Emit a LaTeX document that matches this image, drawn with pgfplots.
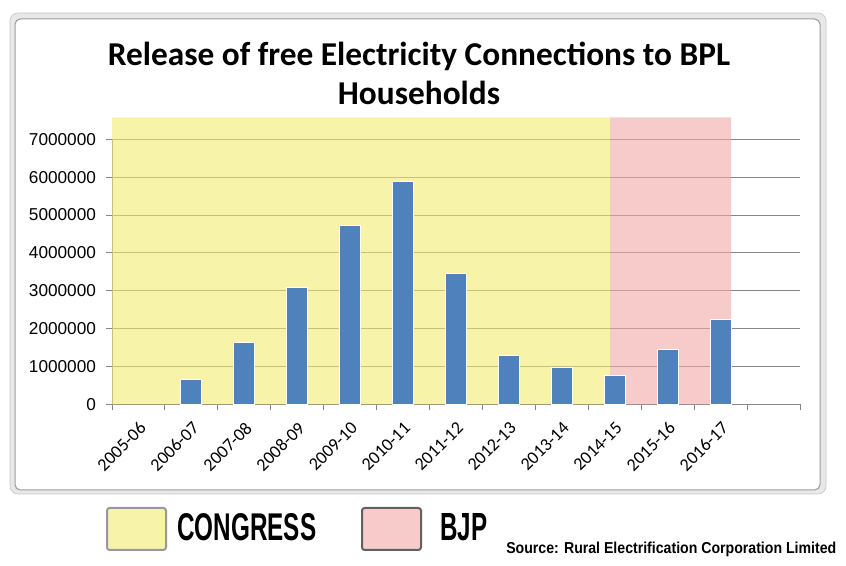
\documentclass[border=0pt]{standalone}
\usepackage{graphicx}
\usepackage{pgfplots}
\pgfplotsset{compat=1.18}
\usepackage{fontspec}
\setmainfont{Carlito}
\newfontfamily\lib{Liberation Sans}
\definecolor{barblue}{HTML}{4F81BD}
\definecolor{cong}{HTML}{F7F4AA}
\definecolor{bjp}{HTML}{F8CBCB}
\definecolor{congt}{HTML}{F2ED71}
\definecolor{bjpt}{HTML}{F3A8A8}
\definecolor{axgray}{HTML}{868686}
\begin{document}
\begin{tikzpicture}[x=0.75pt,y=0.75pt]
\path[use as bounding box] (0,0) rectangle (846,566);
% frame
\fill[black!9, even odd rule, rounded corners=6] (10,566-13) rectangle (826,566-494) (15,566-19) rectangle (820,566-490);
\draw[black!22, line width=0.5pt, rounded corners=6] (10,566-13) rectangle (826,566-494);
\draw[black!38, line width=0.75pt, rounded corners=4] (15,566-19) rectangle (820,566-490);
% title
\node[anchor=base, inner sep=0, font=\bfseries\fontsize{25}{30}\selectfont] at (419,566-66) {Release of free Electricity Connections to BPL};
\node[anchor=base, inner sep=0, font=\bfseries\fontsize{25}{30}\selectfont] at (419,566-105) {Households};
\begin{axis}[
 at={(84pt,121.275pt)}, anchor=south west,
 scale only axis, width=516pt, height=198.75pt,
 xmin=-0.5, xmax=12.5, ymin=0, ymax=7000000,
 clip=false,
 axis x line*=bottom, axis y line*=left,
 axis line style={axgray, line width=0.75pt, -},
 xtick={-0.5,0.5,1.5,2.5,3.5,4.5,5.5,6.5,7.5,8.5,9.5,10.5,11.5,12.5},
 xticklabels={,,,,,,,,,,,,,},
 extra x ticks={0,1,2,3,4,5,6,7,8,9,10,11},
 extra x tick labels={2005-06,2006-07,2007-08,2008-09,2009-10,2010-11,2011-12,2012-13,2013-14,2014-15,2015-16,2016-17},
 extra x tick style={major tick length=0pt, xticklabel style={xshift=0pt, yshift=-7.5pt, rotate=45, anchor=north east, font=\fontsize{13.5}{15}\selectfont}},
 ytick={0,1000000,2000000,3000000,4000000,5000000,6000000,7000000},
 tick align=outside, major tick length=4.5pt,
 tick style={axgray, line width=0.75pt},
 ymajorgrids, grid style={axgray, line width=0.75pt},
 scaled y ticks=false,
 /pgf/number format/assume math mode=true,
 yticklabel style={/pgf/number format/fixed, /pgf/number format/1000 sep={}, font=\lib\fontsize{12.9}{14}\selectfont, xshift=-4pt},
]
\addplot[fill=congt, fill opacity=0.6, draw=none, forget plot] coordinates {(-0.5,0) (-0.5,7580000) (8.91,7580000) (8.91,0)} \closedcycle;
\addplot[fill=bjpt, fill opacity=0.6, draw=none, forget plot] coordinates {(8.91,0) (8.91,7580000) (11.2,7580000) (11.2,0)} \closedcycle;
\addplot[ybar, bar width=15.75pt, bar shift=0pt, fill=barblue, draw=white, line width=0.6pt] coordinates {
(1,655000) (2,1630000) (3,3080000) (4,4720000) (5,5880000) (6,3450000)
(7,1300000) (8,967000) (9,755000) (10,1440000) (11,2230000)};
\end{axis}
% legend
\filldraw[fill=cong, draw=black!40, line width=1.5pt, rounded corners=2] (107,566-508) rectangle (166,566-550);
\node[anchor=base west, inner sep=0] at (177,566-541) {\resizebox{104.25pt}{20.25pt}{\lib\bfseries CONGRESS}};
\filldraw[fill=bjp, draw=black!62, line width=1.5pt, rounded corners=2] (362,566-508) rectangle (421,566-550);
\node[anchor=base west, inner sep=0] at (440,566-541) {\resizebox{35.25pt}{20.25pt}{\lib\bfseries BJP}};
\node[anchor=base west, inner sep=0] at (506,566-554) {\resizebox{247.5pt}{8.6pt}{\lib\bfseries Source: Rural Electrification Corporation Limited}};
\end{tikzpicture}
\end{document}
